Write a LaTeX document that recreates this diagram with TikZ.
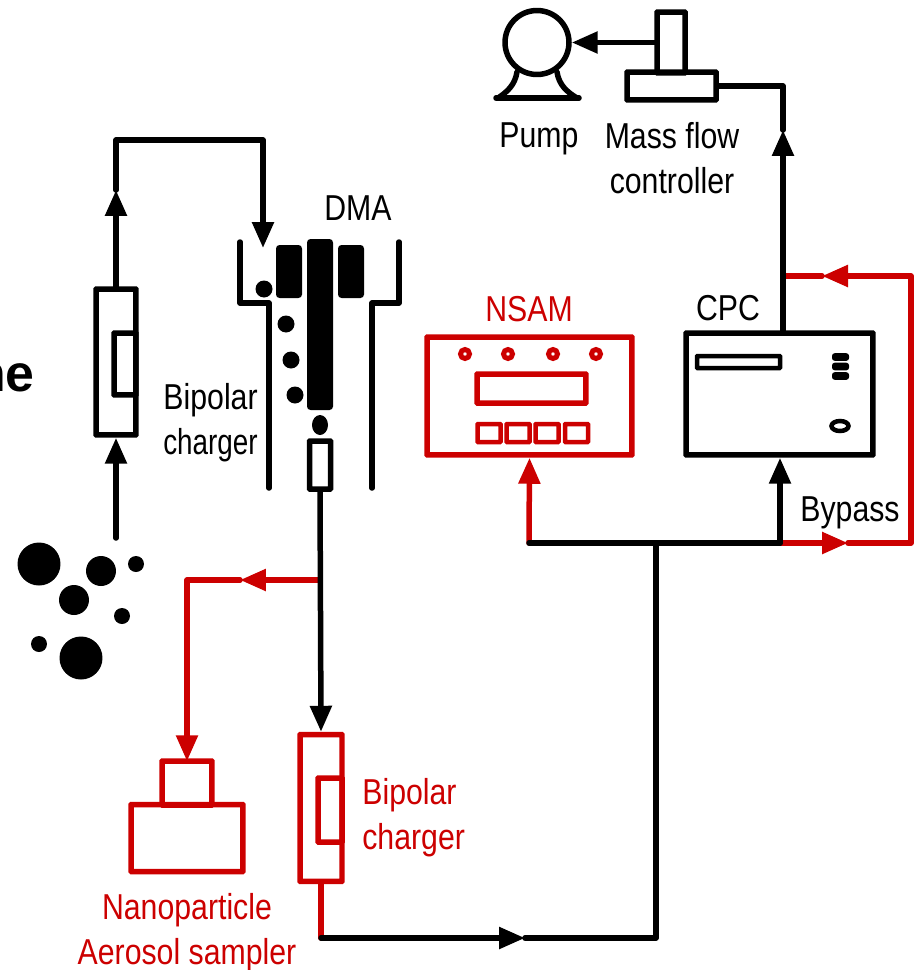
\documentclass[tikz,border=0pt]{standalone}
\usepackage{fontspec}
\setmainfont{Liberation Sans}
\newfontfamily\narrowfont[FakeStretch=0.84]{Liberation Sans}
\usetikzlibrary{positioning,calc,arrows.meta}
\definecolor{flowred}{RGB}{204,0,0}
\tikzset{
  pipe/.style={line width=0.11cm,line join=round,line cap=round},
  flow/.style={pipe,-{Triangle[length=0.52cm,width=0.42cm]}},
  box/.style={draw,line width=0.11cm,rounded corners=0.3pt,inner sep=0,minimum width=#1},
  box/.default=1cm,
  lbl/.style={font=\narrowfont\fontsize{20.5}{25.6}\selectfont,inner sep=0,align=center},
  blob/.style={fill=black,rounded corners=2pt}
}
\begin{document}
\begin{tikzpicture}[x=0.02cm,y=-0.02cm]
    \useasboundingbox (0,0) rectangle (915,970);
    \node[font=\bfseries\fontsize{29.5}{32}\selectfont,inner sep=0,anchor=base east] (cutoff) at (35,391) {ne};

    % first charger
    \node[box=0.8cm,minimum height=2.92cm] (chargerA) at (116,362) {};
    \node[box=0.44cm,minimum height=1.24cm] (chargerAin) at (125,364) {};
    \coordinate (inletA) at (116,538);
    \coordinate (riseA) at (116,190);
    \coordinate (cornerA) at (116,140);
    \coordinate (cornerB) at (263,140);
    \coordinate (dmaIn) at (263,248);
    \draw[flow] (inletA) -- (chargerA.south);
    \draw[flow] (chargerA.north) -- (riseA);
    \draw[flow] (riseA) -- (cornerA) -- (cornerB) -- (dmaIn);

    % DMA
    \draw[pipe] (240,242) -- (240,303) -- (269,303) -- (269,488);
    \draw[pipe] (399,242) -- (399,303) -- (372,303) -- (372,488);
    \fill[blob] (276,245) rectangle (302,298);
    \fill[blob] (307,239) rectangle (333,410);
    \fill[blob] (338,245) rectangle (364,298);
    \foreach \px/\py in {264/289,286/324,291/360,295/395}
        \fill (\px,\py) circle (0.17cm);
    \fill (320,425) ellipse (0.16cm and 0.2cm);
    \node[box=0.42cm,minimum height=0.96cm] (dmaOut) at (320,465) {};

    % sampler branch
    \coordinate (teeA) at (320,580);
    \coordinate (midA) at (240,580);
    \coordinate (cornerC) at (187,580);
    \node[box=1cm,minimum height=0.88cm,draw=flowred] (samplerTop) at (187,783) {};
    \node[box=2.24cm,minimum height=1.34cm,draw=flowred] (samplerBase) at (187,838) {};
    \draw[flow,flowred] (teeA) -- (midA);
    \draw[flow,flowred] (midA) -- (cornerC) -- ($(samplerTop.north)+(0,3)$);

    % second charger
    \node[box=0.84cm,minimum height=2.94cm,draw=flowred] (chargerB) at (321,808) {};
    \node[box=0.48cm,minimum height=1.28cm,draw=flowred] (chargerBin) at (330,810) {};
    \draw[flow] (dmaOut.south) -- (chargerB.north);
    \coordinate (outB) at (321,938);
    \coordinate (midB) at (525,938);
    \coordinate (cornerD) at (656,938);
    \coordinate (teeB) at (656,543);
    \draw[pipe,flowred] (chargerB.south) -- (outB);
    \draw[flow] (outB) -- (midB);
    \draw[pipe] (midB) -- (cornerD) -- (teeB);

    % NSAM
    \node[box=4.1cm,minimum height=2.36cm,draw=flowred] (nsam) at (529.5,396) {};
    \foreach \px in {465,508,553,596}{
        \draw[flowred,line width=0.1cm] (\px,354) circle (0.09cm);
        \fill[white] (\px,354) circle (0.02cm);
    }
    \node[box=2.18cm,minimum height=0.58cm,draw=flowred] (nsamPanel) at (531.5,388.5) {};
    \foreach \px in {489,518,547,576.5}
        \node[box=0.46cm,minimum height=0.36cm,draw=flowred,line width=0.09cm] (nsamKey\px) at (\px,433) {};

    % CPC
    \node[box=3.74cm,minimum height=2.44cm] (cpc) at (779.5,394) {};
    \node[box=1.66cm,minimum height=0.24cm,line width=0.09cm] (cpcSlot) at (738.5,362) {};
    \foreach \py in {357,366.5,376}
        \fill[rounded corners=1.5pt] (832,\py-3.8) rectangle (849,\py+3.8);
    \draw[line width=0.09cm] (840,426) ellipse (0.17cm and 0.1cm);

    % split to NSAM, CPC and bypass
    \coordinate (teeC) at (529,543);
    \coordinate (teeD) at (780,543);
    \coordinate (midC) at (848,543);
    \coordinate (cornerE) at (911,543);
    \coordinate (cornerF) at (911,276);
    \coordinate (midD) at (822,276);
    \coordinate (teeE) at (783,276);
    \draw[flow,flowred] (teeC) -- (nsam.south);
    \draw[flow,flowred] (teeD) -- (midC);
    \draw[flow,flowred] (midC) -- (cornerE) -- (cornerF) -- (midD);
    \draw[pipe,flowred] (midD) -- (teeE);
    \draw[pipe] (teeC) -- (teeD);
    \draw[flow] (teeD) -- (teeD |- cpc.south);

    % mass flow controller and pump
    \node[box=1.78cm,minimum height=0.56cm] (mfc) at (671.5,86) {};
    \node[box=0.56cm,minimum height=1.22cm] (mfcTop) at (671,42.5) {};
    \node[draw,circle,line width=0.11cm,inner sep=0,minimum size=1.28cm] (pump) at (537,42.5) {};
    \draw[flow] (mfcTop.west) -- (pump.east);
    \draw[pipe] (496,98) -- (579,98);
    \draw[pipe] (517,72) .. controls (515,85) and (507,92) .. (498,98);
    \draw[pipe] (557,72) .. controls (559,85) and (567,92) .. (577,98);
    \coordinate (cpcTop) at (783,333);
    \coordinate (riseB) at (783,130);
    \draw[flow] (cpcTop) -- (riseB);
    \draw[pipe] (riseB) |- (mfc.east);

    % labels
    \node[lbl] (pumpText) at (539,139) {Pump};
    \node[lbl] (mfcText) at (672,158) {Mass flow\\controller};
    \node[lbl] (dmaText) at (358,208) {DMA};
    \node[lbl,flowred] (nsamText) at (529,309) {NSAM};
    \node[lbl] (cpcText) at (728,308) {CPC};
    \node[lbl] (bypassText) at (850,513) {Bypass};
    \node[lbl,align=right,anchor=east] (chargerAText) at (258,423) {Bipolar\\\scalebox{0.92}[1]{charger}};
    \node[lbl,flowred,align=left,anchor=west] (chargerBText) at (362,818) {Bipolar\\charger};
    \node[lbl,flowred] (samplerText) at (187,933) {Nanoparticle\\Aerosol sampler};

    % particles
    \foreach \px/\py/\pr in {39/564/0.43,101/571/0.3,136/564/0.16,74/600/0.3,122/616/0.16,39/644/0.16,81/658/0.43}
        \fill (\px,\py) circle (\pr cm);
\end{tikzpicture}
\end{document}
